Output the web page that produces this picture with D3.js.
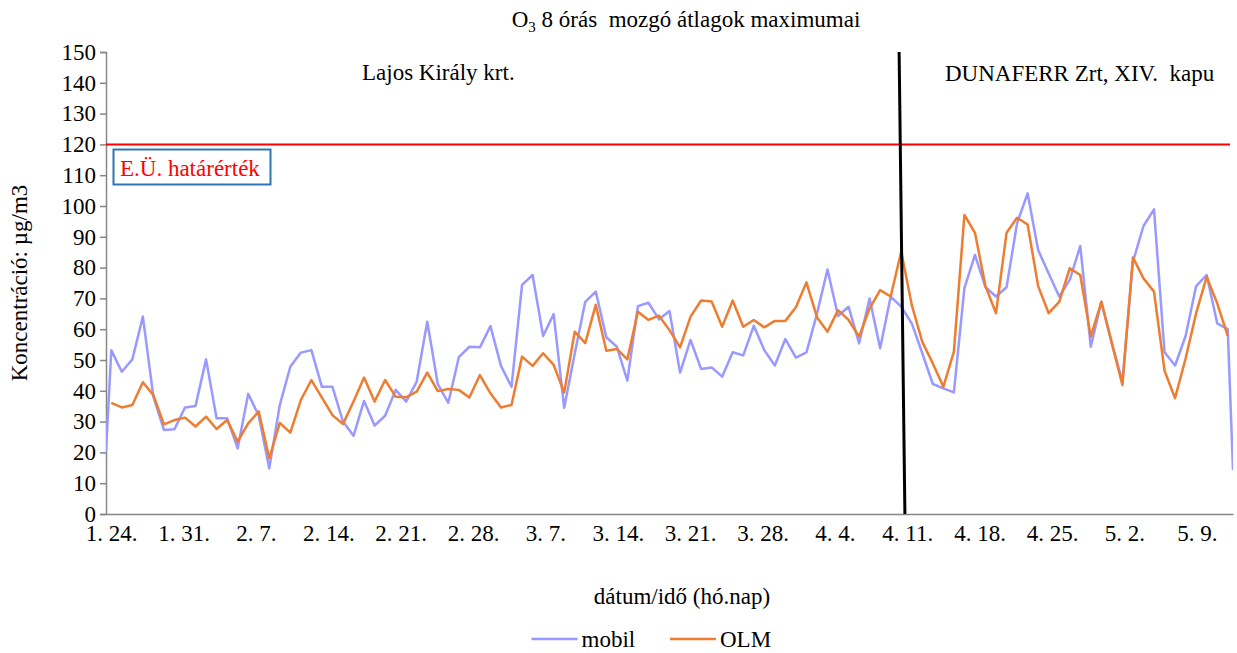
<!DOCTYPE html>
<html>
<head>
<meta charset="utf-8">
<script src="https://cdn.jsdelivr.net/npm/d3@7/dist/d3.min.js"></script>
<style>
  body { margin: 0; background: #fff; }
</style>
</head>
<body>
<svg id="chart" width="1237" height="653"></svg>
<script>
// Daily maxima of the 8-hour moving O3 average, µg/m3
const campaignStart = new Date(2021, 0, 24);
const campaignEnd = new Date(2021, 4, 13);

const olm = [
  36.1, 34.6, 35.4, 42.8, 38.6, 29.1, 30.5, 31.3, 28.4, 31.6,
  27.6, 30.5, 23.5, 29.4, 33.3, 18.1, 29.6, 26.4, 37.0, 43.5,
  37.8, 32.1, 29.2, 36.5, 44.3, 36.5, 43.5, 38.1, 37.9, 39.7,
  45.9, 39.9, 40.6, 40.3, 37.8, 45.1, 39.2, 34.6, 35.4, 51.1,
  48.1, 52.2, 48.4, 39.4, 59.2, 55.5, 67.9, 53.0, 53.6, 50.2,
  65.7, 63.0, 64.4, 59.7, 54.1, 64.1, 69.3, 69.0, 60.8, 69.3,
  60.8, 63.0, 60.6, 62.7, 62.7, 67.1, 75.2, 63.9, 59.2, 66.2,
  63.0, 57.6, 66.8, 72.7, 70.6, 85.2, 67.9, 55.9, 48.9, 41.3,
  52.7, 97.1, 91.3, 74.0, 65.2, 91.3, 96.2, 94.0, 74.0, 65.2,
  68.9, 79.8, 77.6, 57.6, 68.9, 55.4, 41.9, 83.3, 76.5, 72.2,
  46.5, 37.6, 50.5, 65.2, 77.0, 68.4, 57.8
];

const mobil = [
  53.2, 46.2, 50.2, 64.1, 38.0, 27.3, 27.5, 34.6, 35.1, 50.2,
  31.1, 31.1, 21.3, 39.0, 32.0, 14.8, 35.4, 47.8, 52.4, 53.2,
  41.3, 41.3, 30.0, 25.4, 36.7, 28.7, 31.9, 40.3, 36.5, 43.0,
  62.4, 42.2, 36.1, 50.9, 54.3, 54.1, 61.0, 48.1, 41.3, 74.4,
  77.6, 57.8, 64.9, 34.5, 52.0, 68.9, 72.2, 57.4, 54.3, 43.3,
  67.5, 68.6, 63.2, 65.9, 45.9, 56.5, 47.1, 47.6, 44.6, 52.5,
  51.5, 61.1, 53.2, 48.2, 56.8, 50.8, 52.5, 65.0, 79.4, 64.3,
  67.3, 55.4, 70.0, 53.8, 70.6, 67.3, 61.9, 52.2, 42.2, 40.8,
  39.5, 73.3, 84.1, 73.6, 70.6, 73.6, 94.4, 104.1, 85.7, 78.1,
  70.6, 76.0, 87.0, 54.3, 68.9, 55.4, 43.0, 81.9, 93.5, 98.9,
  52.5, 48.2, 57.8, 74.0, 77.6, 61.9, 60.0
];
// partial-day mobile readings at the start and the end of the campaign
const mobilEdges = [20.0, 14.3];

const yTicks = [0, 10, 20, 30, 40, 50, 60, 70, 80, 90, 100, 110, 120, 130, 140, 150];
const labelStepDays = 7;
const limitValue = 120;
// station change (Lajos Király krt. -> DUNAFERR), position in samples
const stationChange = [{ pos: 74.8, v: 150 }, { pos: 75.35, v: 0 }];

const seriesColors = { mobil: "#9999FF", olm: "#ED7D31" };
const FONT = '"Liberation Serif", "Times New Roman", serif';
const FS = "23px";

const n = olm.length;
const svg = d3.select("#chart");
const plot = { left: 106, right: 1233, top: 52, bottom: 514 };

// sample positions of the measured values
const x = d3.scaleLinear().domain([-0.5, n - 0.5]).range([plot.left, plot.right]);
// calendar used for the date labels
const xDate = d3.scaleTime().domain([campaignStart, campaignEnd]).range([plot.left, plot.right]);
const y = d3.scaleLinear().domain([0, 150]).range([plot.bottom, plot.top]);

const txt = sel => sel.style("font-family", FONT).style("font-size", FS).style("fill", "#000");

// title
const title = svg.append("text")
  .attr("x", 686).attr("y", 27)
  .attr("text-anchor", "middle")
  .call(txt);
title.append("tspan").text("O");
title.append("tspan").attr("dy", 5).style("font-size", "15px").text("3");
title.append("tspan").attr("dy", -5).style("white-space", "pre").text(" 8 órás  mozgó átlagok maximumai");

// y axis
const yAxis = svg.append("g")
  .attr("transform", `translate(${plot.left},0)`)
  .call(d3.axisLeft(y).tickValues(yTicks).tickSize(6).tickPadding(4));
yAxis.selectAll("text").call(txt);
yAxis.selectAll("line, path").attr("stroke", "#868686").attr("stroke-width", 1.5);

// x axis: a label every week, centred on its day
const labelDays = d3.timeDay.range(campaignStart, campaignEnd, labelStepDays);
const fmt = d3.timeFormat("%-m. %-d.");
const xAxis = svg.append("g")
  .attr("transform", `translate(0,${plot.bottom})`)
  .call(d3.axisBottom(xDate)
    .tickValues(labelDays.map(d => d3.timeHour.offset(d, 12)))
    .tickFormat(fmt).tickSize(0).tickPadding(11));
xAxis.selectAll("text").call(txt);
xAxis.select("path").attr("stroke", "#868686").attr("stroke-width", 1.5);

// axis titles
svg.append("text")
  .attr("transform", `translate(27,${(plot.top + plot.bottom) / 2}) rotate(-90)`)
  .attr("text-anchor", "middle")
  .call(txt)
  .text("Koncentráció: µg/m3");
svg.append("text")
  .attr("x", 682).attr("y", 604)
  .attr("text-anchor", "middle")
  .call(txt)
  .text("dátum/idő (hó.nap)");

// data lines, clipped to the plot area
svg.append("clipPath").attr("id", "plotclip")
  .append("rect")
  .attr("x", plot.left).attr("y", plot.top - 2)
  .attr("width", plot.right - plot.left).attr("height", plot.bottom - plot.top + 2);

const line = d3.line().x(d => x(d.pos)).y(d => y(d.v));
const mobilPts = [{ pos: -0.5, v: mobilEdges[0] }]
  .concat(mobil.map((v, i) => ({ pos: i, v })))
  .concat([{ pos: n - 0.5, v: mobilEdges[1] }]);
const olmPts = olm.map((v, i) => ({ pos: i, v }));

const g = svg.append("g").attr("clip-path", "url(#plotclip)");
g.append("path").datum(mobilPts)
  .attr("d", line).attr("fill", "none")
  .attr("stroke", seriesColors.mobil).attr("stroke-width", 2.5)
  .attr("stroke-linejoin", "round");
g.append("path").datum(olmPts)
  .attr("d", line).attr("fill", "none")
  .attr("stroke", seriesColors.olm).attr("stroke-width", 2.5)
  .attr("stroke-linejoin", "round");

// health limit
svg.append("line")
  .attr("x1", plot.left).attr("x2", plot.right - 3)
  .attr("y1", y(limitValue)).attr("y2", y(limitValue))
  .attr("stroke", "#FF0000").attr("stroke-width", 2);

// station change marker
svg.append("path").datum(stationChange)
  .attr("d", line).attr("stroke", "#000").attr("stroke-width", 3).attr("fill", "none");

// limit label
const lbl = svg.append("g");
lbl.append("rect")
  .attr("x", 113.5).attr("y", 149.5).attr("width", 157).attr("height", 35)
  .attr("fill", "#fff").attr("stroke", "#2E75B6").attr("stroke-width", 2);
lbl.append("text")
  .attr("x", 120).attr("y", 176)
  .call(txt).style("fill", "#FF0000")
  .text("E.Ü. határérték");

// site names
svg.append("text").attr("x", 362).attr("y", 80).call(txt).text("Lajos Király krt.");
svg.append("text").attr("x", 945).attr("y", 81).call(txt).style("white-space", "pre")
  .text("DUNAFERR Zrt, XIV.  kapu");

// legend
const legend = svg.append("g");
[["mobil", seriesColors.mobil, 531.5], ["OLM", seriesColors.olm, 670]].forEach(([name, col, lx]) => {
  legend.append("line").attr("x1", lx).attr("x2", lx + 46).attr("y1", 639).attr("y2", 639)
    .attr("stroke", col).attr("stroke-width", 2.5);
  legend.append("text").attr("x", lx + 50).attr("y", 647).call(txt).text(name);
});
</script>
</body>
</html>
